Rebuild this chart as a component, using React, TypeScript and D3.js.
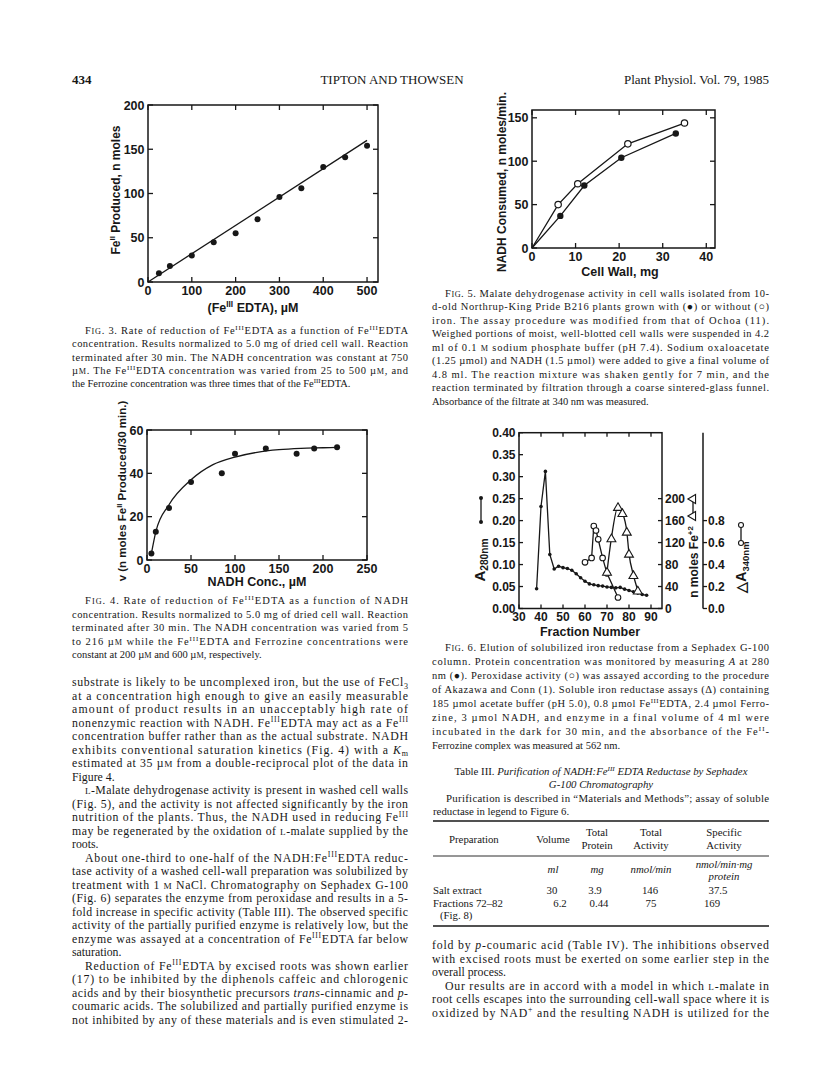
import React from 'react';
import * as d3 from 'd3';

const SERIF = '"Liberation Serif", "Times New Roman", serif';
const SANS = '"Liberation Sans", Arial, Helvetica, sans-serif';
const ink = '#171717';

// Fig. 3: Fe(II) produced vs Fe(III)EDTA
const fig3Conc = [25, 50, 100, 150, 200, 250, 300, 350, 400, 450, 500];
const fig3FeII = [10, 18, 30, 45, 55, 71, 96, 106, 130, 141, 154];
const fig3LineConc = [0, 500];
const fig3LineFeII = [0, 160];
const fig3XTicks = [0, 100, 200, 300, 400, 500];
const fig3YTicks = [0, 50, 100, 150, 200];

// Fig. 4: rate vs NADH
const fig4Nadh = [5, 10, 25, 50, 85, 100, 135, 170, 190, 216];
const fig4Rate = [3, 13, 24, 36, 40, 49, 51.5, 49, 51.5, 52];
const fig4CurveNadh = [5, 10, 25, 50, 75, 100, 125, 150, 175, 200, 216];
const fig4CurveRate = [3, 13, 25.5, 37, 44, 47.5, 49.7, 50.9, 51.5, 51.8, 52];
const fig4XTicks = [0, 50, 100, 150, 200, 250];
const fig4YTicks = [0, 20, 40, 60];

// Fig. 5: NADH consumed vs cell wall
const fig5WallOpen = [0, 6, 10.5, 22, 35];
const fig5NadhOpen = [0, 50, 74, 120, 144];
const fig5WallFilled = [0, 6.5, 12, 20.5, 33];
const fig5NadhFilled = [0, 37, 72, 104, 132];
const fig5XTicks = [0, 10, 20, 30, 40];
const fig5YTicks = [0, 50, 100, 150];

// Fig. 6: elution profile
const a280Fraction = [38, 40, 42, 44, 46, 48, 50, 52, 54, 56, 58, 60, 62, 64, 66, 68, 70, 72, 74, 76, 78, 80, 82, 84, 86, 88];
const a280Value = [0.045, 0.232, 0.312, 0.123, 0.09, 0.096, 0.093, 0.091, 0.087, 0.079, 0.07, 0.062, 0.056, 0.054, 0.052, 0.051, 0.049, 0.048, 0.047, 0.048, 0.044, 0.041, 0.038, 0.035, 0.032, 0.03];
const peroxFraction = [60, 63, 64, 65, 66, 68, 70, 75];
const peroxValue = [0.42, 0.46, 0.75, 0.71, 0.63, 0.46, 0.32, 0.1];
const feFraction = [70, 72, 75, 77, 79, 80, 82, 84];
const feNmol = [67, 128, 185, 174, 140, 100, 61, 33];
const fig6XTicks = [30, 40, 50, 60, 70, 80, 90];
const fig6YTicks = [0, 0.05, 0.1, 0.15, 0.2, 0.25, 0.3, 0.35, 0.4];
const fig6NmolTicks = [0, 40, 80, 120, 160, 200];
const fig6DeltaTicks = [0, 0.2, 0.4, 0.6, 0.8];

// Table III
const tableRows = [
  ['Salt extract', '30', '3.9', '146', '37.5'],
  ['Fractions 72–82', '6.2', '0.44', '75', '169'],
];

const fig3Caption = [
  '>F~{IG}. 3. Rate of reduction of Fe^{III}EDTA as a function of Fe^{III}EDTA',
  'concentration. Results normalized to 5.0 mg of dried cell wall. Reaction',
  'terminated after 30 min. The NADH concentration was constant at 750',
  'µ~{M}. The Fe^{III}EDTA concentration was varied from 25 to 500 µ~{M}, and',
  'the Ferrozine concentration was three times that of the Fe^{III}EDTA.|',
];
const fig4Caption = [
  '>F~{IG}. 4. Rate of reduction of Fe^{III}EDTA as a function of NADH',
  'concentration. Results normalized to 5.0 mg of dried cell wall. Reaction',
  'terminated after 30 min. The NADH concentration was varied from 5',
  'to 216 µ~{M} while the Fe^{III}EDTA and Ferrozine concentrations were',
  'constant at 200 µ~{M} and 600 µ~{M}, respectively.|',
];
const leftBody = [
  'substrate is likely to be uncomplexed iron, but the use of FeCl_{3}',
  'at a concentration high enough to give an easily measurable',
  'amount of product results in an unacceptably high rate of',
  'nonenzymic reaction with NADH. Fe^{III}EDTA may act as a Fe^{III}',
  'concentration buffer rather than as the actual substrate. NADH',
  'exhibits conventional saturation kinetics (Fig. 4) with a *K*_{m}',
  'estimated at 35 µ~{M} from a double-reciprocal plot of the data in',
  'Figure 4.|',
  '>~{L}-Malate dehydrogenase activity is present in washed cell walls',
  '(Fig. 5), and the activity is not affected significantly by the iron',
  'nutrition of the plants. Thus, the NADH used in reducing Fe^{III}',
  'may be regenerated by the oxidation of ~{L}-malate supplied by the',
  'roots.|',
  '>About one-third to one-half of the NADH:Fe^{III}EDTA reduc-',
  'tase activity of a washed cell-wall preparation was solubilized by',
  'treatment with 1 ~{M} NaCl. Chromatography on Sephadex G-100',
  '(Fig. 6) separates the enzyme from peroxidase and results in a 5-',
  'fold increase in specific activity (Table III). The observed specific',
  'activity of the partially purified enzyme is relatively low, but the',
  'enzyme was assayed at a concentration of Fe^{III}EDTA far below',
  'saturation.|',
  '>Reduction of Fe^{III}EDTA by excised roots was shown earlier',
  '(17) to be inhibited by the diphenols caffeic and chlorogenic',
  'acids and by their biosynthetic precursors *trans*-cinnamic and *p*-',
  'coumaric acids. The solubilized and partially purified enzyme is',
  'not inhibited by any of these materials and is even stimulated 2-',
];
const fig5Caption = [
  '>F~{IG}. 5. Malate dehydrogenase activity in cell walls isolated from 10-',
  'd-old Northrup-King Pride B216 plants grown with (●) or without (○)',
  'iron. The assay procedure was modified from that of Ochoa (11).',
  'Weighed portions of moist, well-blotted cell walls were suspended in 4.2',
  'ml of 0.1 ~{M} sodium phosphate buffer (pH 7.4). Sodium oxaloacetate',
  '(1.25 µmol) and NADH (1.5 µmol) were added to give a final volume of',
  '4.8 ml. The reaction mixture was shaken gently for 7 min, and the',
  'reaction terminated by filtration through a coarse sintered-glass funnel.',
  'Absorbance of the filtrate at 340 nm was measured.|',
];
const fig6Caption = [
  '>F~{IG}. 6. Elution of solubilized iron reductase from a Sephadex G-100',
  'column. Protein concentration was monitored by measuring *A* at 280',
  'nm (●). Peroxidase activity (○) was assayed according to the procedure',
  'of Akazawa and Conn (1). Soluble iron reductase assays (Δ) containing',
  '185 µmol acetate buffer (pH 5.0), 0.8 µmol Fe^{III}EDTA, 2.4 µmol Ferro-',
  'zine, 3 µmol NADH, and enzyme in a final volume of 4 ml were',
  'incubated in the dark for 30 min, and the absorbance of the Fe^{II}-',
  'Ferrozine complex was measured at 562 nm.|',
];
const tableNote = [
  '>Purification is described in “Materials and Methods”; assay of soluble',
  'reductase in legend to Figure 6.|',
];
const rightBody = [
  'fold by *p*-coumaric acid (Table IV). The inhibitions observed',
  'with excised roots must be exerted on some earlier step in the',
  'overall process.|',
  '>Our results are in accord with a model in which ~{L}-malate in',
  'root cells escapes into the surrounding cell-wall space where it is',
  'oxidized by NAD^{+} and the resulting NADH is utilized for the',
];

// ^{sup} _{sub} ~{small caps} *italic* #{upright}
function rich(s: string, fs: number) {
  const parts = s.split(/(\^\{[^}]*\}|_\{[^}]*\}|~\{[^}]*\}|#\{[^}]*\}|\*[^*]+\*)/g).filter(p => p !== '');
  let cur = 0;
  return parts.map((p, i) => {
    let off = 0;
    let size: number | undefined;
    let style: string | undefined;
    let txt = p;
    if (p.startsWith('^{')) { off = -0.38 * fs; size = 0.66 * fs; txt = p.slice(2, -1); }
    else if (p.startsWith('_{')) { off = 0.22 * fs; size = 0.68 * fs; txt = p.slice(2, -1); }
    else if (p.startsWith('~{')) { size = 0.78 * fs; txt = p.slice(2, -1); }
    else if (p.startsWith('#{')) { style = 'normal'; txt = p.slice(2, -1); }
    else if (p.length > 2 && p.startsWith('*') && p.endsWith('*')) { style = 'italic'; txt = p.slice(1, -1); }
    const dy = off - cur;
    cur = off;
    return (
      <tspan key={i} dy={dy !== 0 ? dy : undefined} fontSize={size} fontStyle={style}>
        {txt}
      </tspan>
    );
  });
}

function Para({ lines, x, y0, lh, w, fs, indent = 13 }: any) {
  return (
    <g fontFamily={SERIF} fontSize={fs} fill={ink}>
      {lines.map((raw: string, i: number) => {
        let s = raw;
        let dx = 0;
        let just = true;
        if (s.startsWith('>')) { s = s.slice(1); dx = indent; }
        if (s.endsWith('|')) { s = s.slice(0, -1); just = false; }
        return (
          <text key={i} x={x + dx} y={y0 + i * lh}
            textLength={just ? w - dx : undefined}
            lengthAdjust={just ? 'spacing' : undefined}>
            {rich(s, fs)}
          </text>
        );
      })}
    </g>
  );
}

function Frame({ x, y, xt, yt, fmtX = (v: number) => String(v), fmtY = (v: number) => String(v), tick = 5, fs = 12.5, rightTicks = true }: any) {
  const [l, r] = x.range();
  const [b, t] = y.range();
  return (
    <g>
      <rect x={l} y={t} width={r - l} height={b - t} fill="none" stroke={ink} strokeWidth={1.5} />
      <g stroke={ink} strokeWidth={1.3}>
        {xt.map((v: number) => (
          <g key={'x' + v}>
            <line x1={x(v)} x2={x(v)} y1={b} y2={b - tick} />
            <line x1={x(v)} x2={x(v)} y1={t} y2={t + tick} />
          </g>
        ))}
        {yt.map((v: number) => (
          <g key={'y' + v}>
            <line x1={l} x2={l + tick} y1={y(v)} y2={y(v)} />
            {rightTicks && <line x1={r} x2={r - tick} y1={y(v)} y2={y(v)} />}
          </g>
        ))}
      </g>
      <g fontFamily={SANS} fontWeight="bold" fontSize={fs} fill={ink}>
        {xt.map((v: number) => (
          <text key={'xl' + v} x={x(v)} y={b + fs + 0.5} textAnchor="middle">{fmtX(v)}</text>
        ))}
        {yt.map((v: number) => (
          <text key={'yl' + v} x={l - 3.5} y={y(v) + fs * 0.36} textAnchor="end">{fmtY(v)}</text>
        ))}
      </g>
    </g>
  );
}

function VTitle({ x, y, s, fs = 12 }: any) {
  return (
    <text transform={`translate(${x},${y}) rotate(-90)`} textAnchor="middle"
      fontFamily={SANS} fontWeight="bold" fontSize={fs} fill={ink}>
      {rich(s, fs)}
    </text>
  );
}

function HTitle({ x, y, s, fs = 12.5 }: any) {
  return (
    <text x={x} y={y} textAnchor="middle" fontFamily={SANS} fontWeight="bold" fontSize={fs} fill={ink}>
      {rich(s, fs)}
    </text>
  );
}

function Fig3() {
  const x = d3.scaleLinear().domain([0, 525]).range([148, 378]);
  const y = d3.scaleLinear().domain([0, 200]).range([282, 105]);
  const line = d3.line<number>().x(i => x(fig3LineConc[i])).y(i => y(fig3LineFeII[i]));
  return (
    <g>
      <Frame x={x} y={y} xt={fig3XTicks} yt={fig3YTicks} />
      <path d={line(fig3LineConc.map((_, i) => i)) || ''} fill="none" stroke={ink} strokeWidth={1.3} />
      {fig3Conc.map((c, i) => (
        <circle key={i} cx={x(c)} cy={y(fig3FeII[i])} r={3} fill={ink} />
      ))}
      <HTitle x={253} y={312} s="(Fe^{III} EDTA), µM" />
      <VTitle x={120} y={190} s="Fe^{II} Produced, n moles" />
    </g>
  );
}

function Fig4() {
  const x = d3.scaleLinear().domain([0, 250]).range([147, 367]);
  const y = d3.scaleLinear().domain([0, 60]).range([560, 430]);
  const curve = d3.line<number>().x(i => x(fig4CurveNadh[i])).y(i => y(fig4CurveRate[i])).curve(d3.curveMonotoneX);
  return (
    <g>
      <Frame x={x} y={y} xt={fig4XTicks} yt={fig4YTicks} />
      <path d={curve(fig4CurveNadh.map((_, i) => i)) || ''} fill="none" stroke={ink} strokeWidth={1.3} />
      {fig4Nadh.map((c, i) => (
        <circle key={i} cx={x(c)} cy={y(fig4Rate[i])} r={3} fill={ink} />
      ))}
      <HTitle x={257} y={586} s="NADH Conc., µM" />
      <VTitle x={126} y={491} s="v (n moles Fe^{II} Produced/30 min.)" fs={11.5} />
    </g>
  );
}

function Fig5() {
  const x = d3.scaleLinear().domain([0, 42]).range([532, 715]);
  const y = d3.scaleLinear().domain([0, 159]).range([248, 110]);
  const open = d3.line<number>().x(i => x(fig5WallOpen[i])).y(i => y(fig5NadhOpen[i]));
  const filled = d3.line<number>().x(i => x(fig5WallFilled[i])).y(i => y(fig5NadhFilled[i]));
  return (
    <g>
      <Frame x={x} y={y} xt={fig5XTicks} yt={fig5YTicks} />
      <path d={open(fig5WallOpen.map((_, i) => i)) || ''} fill="none" stroke={ink} strokeWidth={1.3} />
      <path d={filled(fig5WallFilled.map((_, i) => i)) || ''} fill="none" stroke={ink} strokeWidth={1.3} />
      {fig5WallOpen.map((w, i) => i > 0 && (
        <circle key={'o' + i} cx={x(w)} cy={y(fig5NadhOpen[i])} r={3.2} fill="#fff" stroke={ink} strokeWidth={1.2} />
      ))}
      {fig5WallFilled.map((w, i) => i > 0 && (
        <circle key={'f' + i} cx={x(w)} cy={y(fig5NadhFilled[i])} r={3.2} fill={ink} />
      ))}
      <HTitle x={620} y={276} s="Cell Wall, mg" />
      <VTitle x={506} y={182} s="NADH Consumed, n moles/min." />
    </g>
  );
}

function Fig6() {
  const x = d3.scaleLinear().domain([30, 95]).range([519, 662]);
  const y = d3.scaleLinear().domain([0, 0.4]).range([608.5, 432.7]);
  const yFe = d3.scaleLinear().domain([0, 320]).range([608.5, 432.7]);
  const yDelta = d3.scaleLinear().domain([0, 1.6]).range([608.5, 432.7]);
  const fmt2 = d3.format('.2f');
  const fmt1 = d3.format('.1f');
  const a280 = d3.line<number>().x(i => x(a280Fraction[i])).y(i => y(a280Value[i]));
  const perox = d3.line<number>().x(i => x(peroxFraction[i])).y(i => yDelta(peroxValue[i]));
  const fe = d3.line<number>().x(i => x(feFraction[i])).y(i => yFe(feNmol[i])).curve(d3.curveMonotoneX);
  const tri = d3.symbol(d3.symbolTriangle, 34)() || '';
  const axX = 703;
  return (
    <g>
      <Frame x={x} y={y} xt={fig6XTicks} yt={fig6YTicks} fmtY={fmt2} rightTicks={false} tick={4} fs={12} />
      {/* right frame: n moles Fe+2 */}
      <g stroke={ink} strokeWidth={1.3}>
        {fig6NmolTicks.map(v => (
          <line key={v} x1={662} x2={658} y1={yFe(v)} y2={yFe(v)} />
        ))}
        <line x1={axX} x2={axX} y1={432.7} y2={608.5} strokeWidth={1.5} />
        {fig6DeltaTicks.map(v => (
          <line key={'d' + v} x1={axX} x2={axX + 4} y1={yDelta(v)} y2={yDelta(v)} />
        ))}
      </g>
      <g fontFamily={SANS} fontWeight="bold" fontSize={12} fill={ink}>
        {fig6NmolTicks.map(v => (
          <text key={v} x={665} y={yFe(v) + 4.3}>{v}</text>
        ))}
        {fig6DeltaTicks.map(v => (
          <text key={'d' + v} x={axX + 5} y={yDelta(v) + 4.3}>{fmt1(v)}</text>
        ))}
      </g>
      <path d={a280(a280Fraction.map((_, i) => i)) || ''} fill="none" stroke={ink} strokeWidth={1.3} />
      {a280Fraction.map((f, i) => (
        <circle key={'a' + i} cx={x(f)} cy={y(a280Value[i])} r={1.8} fill={ink} />
      ))}
      <path d={perox(peroxFraction.map((_, i) => i)) || ''} fill="none" stroke={ink} strokeWidth={1.3} />
      <path d={fe(feFraction.map((_, i) => i)) || ''} fill="none" stroke={ink} strokeWidth={1.3} />
      {peroxFraction.map((f, i) => (
        <circle key={'p' + i} cx={x(f)} cy={yDelta(peroxValue[i])} r={2.8} fill="#fff" stroke={ink} strokeWidth={1.1} />
      ))}
      {feFraction.map((f, i) => (
        <path key={'t' + i} d={tri} transform={`translate(${x(f)},${yFe(feNmol[i]) + 1})`} fill="#fff" stroke={ink} strokeWidth={1.1} />
      ))}
      <HTitle x={590} y={636} s="Fraction Number" fs={12.5} />
      {/* legends and side titles */}
      <g stroke={ink} strokeWidth={1.3}>
        <line x1={481} x2={481} y1={498} y2={522} />
        <line x1={693} x2={693} y1={500} y2={515} />
        <line x1={741} x2={741} y1={525} y2={543} />
      </g>
      <circle cx={481} cy={498} r={2} fill={ink} />
      <circle cx={481} cy={522} r={2} fill={ink} />
      <path d={tri} transform="translate(693,499) rotate(-90)" fill="#fff" stroke={ink} strokeWidth={1.1} />
      <path d={tri} transform="translate(693,516) rotate(-90)" fill="#fff" stroke={ink} strokeWidth={1.1} />
      <circle cx={741} cy={525} r={2.5} fill="#fff" stroke={ink} strokeWidth={1.1} />
      <circle cx={741} cy={543} r={2.5} fill="#fff" stroke={ink} strokeWidth={1.1} />
      <VTitle x={485} y={560} s="A_{280nm}" fs={15} />
      <VTitle x={698} y={562} s="n moles Fe^{+2}" fs={12} />
      <VTitle x={746} y={567} s="△A_{340nm}" fs={14} />
    </g>
  );
}

function Table3() {
  const l = 433;
  const r = 769;
  const fs = 10.8;
  const cols = [0, 553, 597, 651, 724];
  return (
    <g fontFamily={SERIF} fontSize={fs} fill={ink}>
      <text x={601} y={775} textAnchor="middle" fontStyle="italic">
        {rich('#{Table III.}  Purification of NADH:Fe^{III} EDTA Reductase by Sephadex', fs)}
      </text>
      <text x={601} y={788} textAnchor="middle" fontStyle="italic">G-100 Chromatography</text>
      <Para lines={tableNote} x={l} y0={802} lh={13} w={r - l} fs={fs} />
      <line x1={l} x2={r} y1={821} y2={821} stroke={ink} strokeWidth={1.6} />
      <text x={449} y={843}>Preparation</text>
      <text x={cols[1]} y={843} textAnchor="middle">Volume</text>
      <text x={cols[2]} y={836} textAnchor="middle">Total</text>
      <text x={cols[2]} y={849} textAnchor="middle">Protein</text>
      <text x={cols[3]} y={836} textAnchor="middle">Total</text>
      <text x={cols[3]} y={849} textAnchor="middle">Activity</text>
      <text x={cols[4]} y={836} textAnchor="middle">Specific</text>
      <text x={cols[4]} y={849} textAnchor="middle">Activity</text>
      <line x1={l} x2={r} y1={856} y2={856} stroke={ink} strokeWidth={0.9} />
      <g fontStyle="italic">
        <text x={cols[1]} y={873} textAnchor="middle">ml</text>
        <text x={cols[2]} y={873} textAnchor="middle">mg</text>
        <text x={cols[3]} y={873} textAnchor="middle">nmol/min</text>
        <text x={cols[4]} y={868} textAnchor="middle">nmol/min·mg</text>
        <text x={cols[4]} y={880} textAnchor="middle">protein</text>
      </g>
      {tableRows.map((row, i) => (
        <g key={i}>
          <text x={l} y={894 + i * 12.5}>{row[0]}</text>
          {row.slice(1).map((v, j) => (
            <text key={j} x={cols[j + 1] + (i === 1 ? [7, 2, 0, -12][j] : [-1, -2, -1, -6][j])} y={894 + i * 12.5} textAnchor="middle">{v}</text>
          ))}
        </g>
      ))}
      <text x={l + 7} y={919}>(Fig. 8)</text>
      <line x1={l} x2={r} y1={926} y2={926} stroke={ink} strokeWidth={1.6} />
    </g>
  );
}

export default function App() {
  return (
    <svg width={816} height={1073} viewBox="0 0 816 1073"
      style={{ position: 'absolute', left: 0, top: 0, background: '#fff' }}>
      <rect width={816} height={1073} fill="#fff" />
      <g fontFamily={SERIF} fontSize={13} fill={ink}>
        <text x={72} y={84} fontWeight="bold">434</text>
        <text x={392} y={84} textAnchor="middle">TIPTON AND THOWSEN</text>
        <text x={769} y={84} textAnchor="end">Plant Physiol. Vol. 79, 1985</text>
      </g>
      <Fig3 />
      <Para lines={fig3Caption} x={72} y0={334} lh={13.3} w={336} fs={10.5} />
      <Fig4 />
      <Para lines={fig4Caption} x={72} y0={604} lh={13.5} w={336} fs={10.5} />
      <Para lines={leftBody} x={72} y0={686} lh={13.5} w={336} fs={11.8} />
      <Fig5 />
      <Para lines={fig5Caption} x={432} y0={296.5} lh={13.5} w={337} fs={10.5} />
      <Fig6 />
      <Para lines={fig6Caption} x={432} y0={651} lh={14} w={337} fs={10.5} />
      <Table3 />
      <Para lines={rightBody} x={432} y0={949} lh={13.5} w={337} fs={11.8} />
    </svg>
  );
}
